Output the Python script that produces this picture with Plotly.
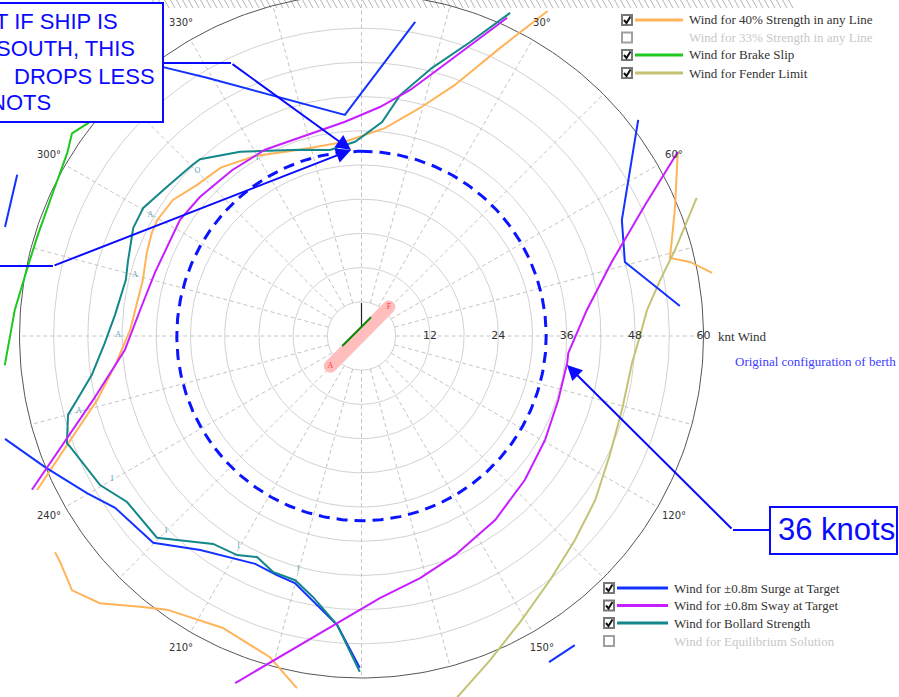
import numpy as np
import plotly.graph_objects as go

W, H = 899, 697
PX_PER_KNOT = 5.7          # radial scale of the wind rose
CX, CY = 361.5, 336.0      # pixel position of the rose centre

# ---------------- grid ----------------
ring_knots = [6, 12, 18, 24, 30, 36, 42, 48, 54]
outer_ring_knots = 60
spoke_bearings = list(range(0, 360, 15))
radial_tick_knots = [12, 24, 36, 48, 60]
radial_tick_text = ["12", "24", "36", "48", "60"]
angle_label_bearings = [30, 60, 120, 150, 210, 240, 300, 330]
angle_label_text = ["30°", "60°", "120°", "150°", "210°", "240°", "300°", "330°"]
angle_label_radius = 63.3

# ---------------- limiting wind curves (bearing deg, wind kn) ----------------
strength40_bearing = [29.8, 25.7, 20.4, 14.4, 6.4, 355.1, 341.7, 329.4, 320.1, 312.5, 305.8, 299.6,
                      296.2, 291.2, 284.4, 271.5, 263.3, 256.4, 244.6, None,
                      234.8, 233.1, 228.7, 224.4, 219.3, 215.4, 205.4, 195.9, 190.4, None,
                      59.8, 67.6, 72.8, 75.8, 77.3, 79.8]
strength40_knots = [65.7, 56.1, 47.0, 41.3, 36.7, 34.2, 34.4, 36.7, 38.5, 39.2, 40.8, 41.2,
                    41.0, 40.4, 39.6, 40.6, 43.5, 47.7, 63.0, None,
                    65.8, 66.1, 67.6, 65.6, 61.4, 58.9, 56.7, 58.6, 62.8, None,
                    64.2, 59.5, 57.0, 55.8, 59.1, 62.5]

brake_bearing = [313.2, 307.9, 305.0, 301.9, 294.9, 287.0, 281.7, 274.3, 265.3]
brake_knots = [60.5, 60.8, 62.0, 60.8, 59.7, 59.5, 59.8, 61.0, 62.8]

fender_bearing = [67.6, 74.7, 79.4, 84.8, 89.8, 95.7, 105.9, 115.6, 125.1, 133.7, 142.3, 151.0, 158.4, 165.6]
fender_knots = [63.6, 57.0, 53.3, 50.3, 48.9, 47.7, 47.5, 48.3, 50.1, 51.8, 54.1, 57.4, 61.2, 65.9]

surge_bearing = [9.7, 355.7, 329.1, 325.0, 323.6, None, 295.1, 287.0, None,
                 253.9, 247.5, 240.2, 235.1, 225.2, 217.0, 205.0, 199.5, 195.1, 184.8, 180.3, None,
                 150.1, 145.4, None, 52.0, 66.0, 74.3, 79.4, 84.6]
surge_knots = [55.9, 38.9, 52.8, 57.0, 58.6, None, 66.7, 65.4, None,
               65.1, 60.1, 55.5, 52.7, 51.5, 47.0, 44.1, 44.5, 44.9, 50.9, 58.2, None,
               66.0, 65.9, None, 61.6, 50.0, 48.0, 51.5, 56.1]

sway_bearing = [24.6, 20.5, 16.3, 11.2, 4.6, 355.6, 342.8, 332.6, 322.0, 310.7, 302.6, 294.6,
                287.2, 276.7, 266.6, 256.6, 245.0, None,
                59.8, 65.2, 73.5, 83.4, 94.7, 97.5, 108.0, 119.5, 131.4, 144.0, 156.9, 166.4, 176.0, 200.0]
sway_knots = [61.4, 54.3, 49.0, 44.0, 40.3, 37.7, 36.5, 36.8, 36.9, 37.4, 37.8, 37.5,
              37.9, 39.1, 41.6, 48.4, 63.8, None,
              64.2, 54.8, 45.8, 39.8, 36.4, 36.4, 36.3, 37.0, 38.2, 39.9, 41.8, 43.7, 46.1, 64.8]

bollard_bearing = [24.7, 20.3, 14.7, 9.1, 5.5, 358.1, 350.4, 341.7, 331.3, 326.6, 317.6, 315.3,
                   307.5, 300.4, 295.3, 287.6, 283.4, 274.9, 268.0, 261.8, 257.3, 255.0, 250.0,
                   249.2, 240.3, 234.7, 225.4, 220.4, 215.5, 209.6, 205.3, 200.6, 195.2, 190.5,
                   184.8, 180.3]
bollard_knots = [62.4, 55.0, 48.6, 42.8, 37.7, 34.1, 33.1, 34.4, 37.0, 38.7, 42.0, 42.2,
                 43.0, 44.4, 44.3, 43.0, 42.5, 43.4, 45.2, 47.8, 51.2, 53.3, 55.0,
                 54.7, 52.8, 50.4, 50.4, 47.2, 44.8, 44.2, 42.9, 44.2, 44.4, 46.6,
                 50.9, 58.9]

# line identifiers printed along the bollard curve
bollard_tag_text = ["O", "I", "A", "A", "A", "A", "I", "I", "I", "I"]
bollard_tag_bearing = [315.1, 329.6, 299.8, 285.1, 270.2, 255.1, 240.2, 225.1, 210.3, 195.2]
bollard_tag_knots = [40.8, 36.2, 42.7, 41.2, 42.7, 51.3, 50.4, 48.4, 42.7, 42.4]

# berth / ship sketch at the centre
ship_bearing = [225.9, 43.4]
ship_knots = [7.6, 7.0]
berth_bearing = [242.6, 27.0]
berth_knots = [3.8, 3.7]
heading_bearing = [0, 0]
heading_knots = [1.4, 5.8]

target_ring_knots = 32.4

# legend entries: (label, colour, shown)
legend_top = [("Wind for 40% Strength in any Line", "#FFB45A", True),
              ("Wind for 33% Strength in any Line", None, False),
              ("Wind for Brake Slip", "#1EC81E", True),
              ("Wind for Fender Limit", "#C3C373", True)]
legend_bottom = [("Wind for ±0.8m Surge at Target", "#1432FF", True),
                 ("Wind for ±0.8m Sway at Target", "#C81EFF", True),
                 ("Wind for Bollard Strength", "#13878A", True),
                 ("Wind for Equilibrium Solution", None, False)]


def polar_xy(bearings, knots):
    b = np.array([np.nan if v is None else v for v in bearings], dtype=float)
    k = np.array([np.nan if v is None else v for v in knots], dtype=float)
    t = np.radians(b)
    return k * np.sin(t), k * np.cos(t)


def px(x):
    return x / W


def py(y):
    return 1 - y / H


fig = go.Figure()

# rings
theta = np.arange(0, 361, 1.0)
for r in ring_knots:
    x, y = polar_xy(theta, np.full(theta.shape, r))
    fig.add_trace(go.Scatter(x=x, y=y, mode="lines", line=dict(color="#D2D2D2", width=1),
                             hoverinfo="skip", showlegend=False))

# spokes
sx, sy = [], []
for b in spoke_bearings:
    x, y = polar_xy([b, b], [ring_knots[0], outer_ring_knots])
    sx += list(x) + [None]
    sy += list(y) + [None]
fig.add_trace(go.Scatter(x=sx, y=sy, mode="lines", line=dict(color="#C4C4C4", width=1, dash="4px,3px"),
                         hoverinfo="skip", showlegend=False))

# outer ring
x, y = polar_xy(theta, np.full(theta.shape, outer_ring_knots))
fig.add_trace(go.Scatter(x=x, y=y, mode="lines", line=dict(color="#555555", width=1),
                         hoverinfo="skip", showlegend=False))

# limiting curves
curves = [
    (strength40_bearing, strength40_knots, "#FFB45A"),
    (fender_bearing, fender_knots, "#C3C373"),
    (brake_bearing, brake_knots, "#1EC81E"),
    (surge_bearing, surge_knots, "#1432FF"),
    (bollard_bearing, bollard_knots, "#13878A"),
    (sway_bearing, sway_knots, "#C81EFF"),
]
for b, k, c in curves:
    x, y = polar_xy(b, k)
    fig.add_trace(go.Scatter(x=x, y=y, mode="lines", line=dict(color=c, width=2),
                             connectgaps=False, hoverinfo="skip", showlegend=False))

x, y = polar_xy(bollard_tag_bearing, bollard_tag_knots)
fig.add_trace(go.Scatter(x=x, y=y, mode="text", text=bollard_tag_text,
                         textfont=dict(family="Liberation Serif", size=8, color="#5AA8BE"),
                         hoverinfo="skip", showlegend=False))

# 36 kn reference ring
x, y = polar_xy(theta, np.full(theta.shape, target_ring_knots))
fig.add_trace(go.Scatter(x=x, y=y, mode="lines", line=dict(color="#0A14FF", width=3, dash="11px,7px"),
                         hoverinfo="skip", showlegend=False))

# centre sketch
x, y = polar_xy(ship_bearing, ship_knots)
fig.add_trace(go.Scatter(x=x, y=y, mode="lines+markers", line=dict(color="#FFBDBD", width=13),
                         marker=dict(color="#FFBDBD", size=13), hoverinfo="skip", showlegend=False))
fig.add_trace(go.Scatter(x=x, y=y, mode="text", text=["A", "F"],
                         textfont=dict(family="Liberation Serif", size=8, color="#FF3C3C"),
                         hoverinfo="skip", showlegend=False))
x, y = polar_xy(heading_bearing, heading_knots)
fig.add_trace(go.Scatter(x=x, y=y, mode="lines", line=dict(color="#222222", width=1.2),
                         hoverinfo="skip", showlegend=False))
x, y = polar_xy(berth_bearing, berth_knots)
fig.add_trace(go.Scatter(x=x, y=y, mode="lines", line=dict(color="#0A8A0A", width=2),
                         hoverinfo="skip", showlegend=False))

# axis labels
x, y = polar_xy([90] * len(radial_tick_knots), radial_tick_knots)
fig.add_trace(go.Scatter(x=x, y=y, mode="text", text=radial_tick_text,
                         textfont=dict(family="DejaVu Sans", size=11, color="#333333"),
                         hoverinfo="skip", showlegend=False))
x, y = polar_xy(angle_label_bearings, [angle_label_radius] * len(angle_label_bearings))
fig.add_trace(go.Scatter(x=x, y=y, mode="text", text=angle_label_text,
                         textfont=dict(family="DejaVu Sans", size=10, color="#333333"),
                         hoverinfo="skip", showlegend=False))

shapes = []
annotations = []

# hatched quay edge along the top
quay_path = " ".join("M {:.5f},{:.5f} L {:.5f},{:.5f}".format(px(xq), py(-1), px(xq + 5), py(8))
                     for xq in range(152, 790, 6))
shapes.append(dict(type="path", xref="paper", yref="paper", path=quay_path,
                   line=dict(color="#B4B4B4", width=1), layer="below"))

annotations.append(dict(x=px(716), y=py(336), xref="paper", yref="paper", text="knt Wind",
                        xanchor="left", yanchor="middle", showarrow=False,
                        font=dict(family="Liberation Serif", size=13, color="#333333")))
annotations.append(dict(x=px(733), y=py(361), xref="paper", yref="paper",
                        text="Original configuration of berth", xanchor="left", yanchor="middle",
                        showarrow=False, font=dict(family="Liberation Serif", size=13, color="#3C3CFF")))


def add_legend(items, x_box, x_line0, x_line1, x_text, y_rows):
    for (label, colour, shown), yc in zip(items, y_rows):
        shapes.append(dict(type="rect", xref="paper", yref="paper",
                           x0=px(x_box), x1=px(x_box + 10), y0=py(yc - 5), y1=py(yc + 5),
                           line=dict(color="#777777" if shown else "#A0A0A0", width=2),
                           fillcolor="white", layer="above"))
        if shown:
            path = "M {:.5f},{:.5f} L {:.5f},{:.5f} L {:.5f},{:.5f}".format(
                px(x_box + 2), py(yc), px(x_box + 4.5), py(yc + 3), px(x_box + 8.5), py(yc - 3.5))
            shapes.append(dict(type="path", xref="paper", yref="paper", path=path,
                               line=dict(color="#111111", width=2), layer="above"))
            shapes.append(dict(type="line", xref="paper", yref="paper",
                               x0=px(x_line0), x1=px(x_line1), y0=py(yc), y1=py(yc),
                               line=dict(color=colour, width=3), layer="above"))
        annotations.append(dict(x=px(x_text), y=py(yc), xref="paper", yref="paper", text=label,
                                xanchor="left", yanchor="middle", showarrow=False,
                                font=dict(family="Liberation Serif", size=13,
                                          color="#333333" if shown else "#C8C8C8")))


add_legend(legend_top, 622, 635, 683, 687, [20, 37.5, 55, 73])
add_legend(legend_bottom, 604, 617, 668, 672, [588, 605.5, 623, 641])

# note box at the top left
shapes.append(dict(type="rect", xref="paper", yref="paper", x0=px(-6), x1=px(163), y0=py(122), y1=py(3),
                   line=dict(color="#0A0AFF", width=2), fillcolor="white", layer="above"))
note_lines = ["T IF SHIP IS", "SOUTH, THIS", "DROPS LESS", "NOTS"]
note_right = [120, 137, 157, 53]
note_y = [21, 48.5, 76.5, 103]
for t, xr, yc in zip(note_lines, note_right, note_y):
    annotations.append(dict(x=px(xr), y=py(yc), xref="paper", yref="paper", text=t,
                            xanchor="right", yanchor="middle", showarrow=False,
                            font=dict(family="Liberation Sans", size=22, color="#0A0AFF")))

# connectors from the note to the 36 kn ring
shapes.append(dict(type="line", xref="paper", yref="paper", x0=px(163), x1=px(231), y0=py(63), y1=py(63),
                   line=dict(color="#0A0AFF", width=2), layer="above"))
shapes.append(dict(type="line", xref="paper", yref="paper", x0=px(-2), x1=px(53), y0=py(266), y1=py(266),
                   line=dict(color="#0A0AFF", width=2), layer="above"))
for (x0, y0) in [(231, 63), (53, 266)]:
    annotations.append(dict(x=px(351), y=py(150), xref="paper", yref="paper", ax=x0 - 351, ay=y0 - 150,
                            axref="pixel", ayref="pixel", text="", showarrow=True, arrowhead=2,
                            arrowsize=1.5, arrowwidth=2, arrowcolor="#0A0AFF"))

# 36 knots call-out
shapes.append(dict(type="rect", xref="paper", yref="paper", x0=px(770), x1=px(897), y0=py(554), y1=py(507),
                   line=dict(color="#0A0AFF", width=2), fillcolor="white", layer="above"))
annotations.append(dict(x=px(836), y=py(529), xref="paper", yref="paper", text="36 knots",
                        xanchor="center", yanchor="middle", showarrow=False,
                        font=dict(family="Liberation Sans", size=31, color="#0A0AFF")))
shapes.append(dict(type="line", xref="paper", yref="paper", x0=px(733), x1=px(770), y0=py(530), y1=py(530),
                   line=dict(color="#0A0AFF", width=2), layer="above"))
annotations.append(dict(x=px(567), y=py(365), xref="paper", yref="paper", ax=733 - 567, ay=530 - 365,
                        axref="pixel", ayref="pixel", text="", showarrow=True, arrowhead=2,
                        arrowsize=1.5, arrowwidth=2, arrowcolor="#0A0AFF"))

fig.update_layout(
    width=W, height=H,
    margin=dict(l=0, r=0, t=0, b=0, pad=0),
    paper_bgcolor="white", plot_bgcolor="white",
    xaxis=dict(range=[-CX / PX_PER_KNOT, (W - CX) / PX_PER_KNOT], visible=False, fixedrange=True),
    yaxis=dict(range=[-(H - CY) / PX_PER_KNOT, CY / PX_PER_KNOT], visible=False, fixedrange=True),
    shapes=shapes, annotations=annotations, showlegend=False,
)

fig.write_html("out.html")
